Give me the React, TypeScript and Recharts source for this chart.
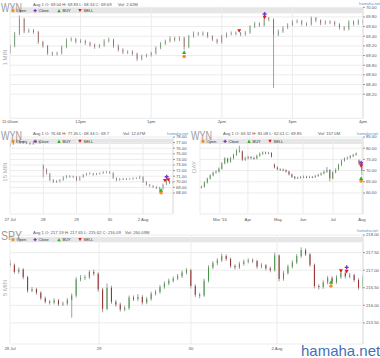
import { ComposedChart, Bar, Scatter, XAxis, YAxis, CartesianGrid } from 'recharts';

// ---- 1 MIN (WYN), one candle per 4 minutes from 11:00am ----
const openA0 = 69.06;
const closeA = [69.20, 69.45, 69.76, 69.50, 69.52, 69.49, 69.28, 69.20, 69.05, 69.03,
  69.05, 69.18, 69.32, 69.34, 69.29, 69.30, 69.26, 69.22, 69.18, 69.21,
  69.30, 69.33, 69.20, 69.12, 69.07, 69.08, 69.04, 68.93, 68.99, 69.01,
  69.05, 69.16, 69.25, 69.30, 69.36, 69.33, 69.37, 69.18, 69.40, 69.46,
  69.44, 69.47, 69.40, 69.33, 69.28, 69.40, 69.45, 69.47, 69.46, 69.44,
  69.48, 69.60, 69.66, 69.63, 69.78, 69.75, 69.43, 69.50, 69.58, 69.64,
  69.70, 69.71, 69.66, 69.65, 69.78, 69.73, 69.67, 69.70, 69.69, 69.65,
  69.58, 69.55, 69.70, 69.66, 69.72, 69.68];
const highA = [69.24, 69.49, 69.83, 69.78, 69.56, 69.55, 69.51, 69.31, 69.22, 69.08,
  69.08, 69.21, 69.36, 69.38, 69.37, 69.34, 69.33, 69.29, 69.25, 69.24,
  69.34, 69.37, 69.35, 69.23, 69.15, 69.11, 69.11, 69.06, 69.02, 69.04,
  69.08, 69.19, 69.28, 69.33, 69.40, 69.39, 69.40, 69.39, 69.43, 69.50,
  69.49, 69.50, 69.49, 69.42, 69.35, 69.43, 69.48, 69.50, 69.50, 69.49,
  69.51, 69.63, 69.70, 69.69, 69.82, 69.80, 69.77, 69.54, 69.61, 69.67,
  69.73, 69.75, 69.74, 69.69, 69.81, 69.80, 69.75, 69.73, 69.73, 69.72,
  69.67, 69.61, 69.73, 69.73, 69.75, 69.75];
const lowA = [69.03, 69.17, 69.42, 69.46, 69.47, 69.45, 69.24, 69.16, 69.01, 68.99,
  69.00, 69.02, 69.15, 69.29, 69.25, 69.26, 69.22, 69.18, 69.14, 69.15,
  69.18, 69.27, 69.16, 69.08, 69.03, 69.03, 69.00, 68.89, 68.90, 68.96,
  68.98, 69.02, 69.13, 69.22, 69.27, 69.29, 69.30, 69.12, 69.15, 69.37,
  69.41, 69.41, 69.36, 69.30, 69.24, 69.25, 69.37, 69.42, 69.42, 69.40,
  69.41, 69.45, 69.57, 69.59, 69.60, 69.71, 68.33, 69.40, 69.47, 69.55,
  69.61, 69.67, 69.62, 69.61, 69.62, 69.69, 69.63, 69.64, 69.65, 69.61,
  69.54, 69.51, 69.52, 69.62, 69.63, 69.64];
const ticksA = [0, 15, 30, 45, 60, 75];
const labelsA = ['11:00am', '12pm', '1pm', '2pm', '3pm', '4pm'];
const yTicksA = [68.2, 68.4, 68.6, 68.8, 69.0, 69.2, 69.4, 69.6, 69.8, 70.0];
const openMkA = [{ x: 37, y: 68.98 }];
const closeMkA = [{ x: 54.1, y: 69.86 }];
const buyMkA = [{ x: 37, y: 69.07 }];
const sellMkA = [{ x: 48.7, y: 69.51 }, { x: 54.1, y: 69.79 }];

// ---- 15 MIN (WYN), ten candles per session ----
const openB0 = 76.5;
const gapB: Record<number, number> = { 10: 72.9 };
const closeB = [76.7, 77.1, 77.4, 77.2, 77.0, 76.9, 76.75, 77.0, 77.2, 77.0,
  72.2, 71.5, 70.3, 70.0, 70.1, 70.3, 70.8, 71.0, 70.9, 70.9,
  70.3, 70.8, 71.2, 71.4, 71.5, 71.3, 71.4, 71.5, 71.7, 71.75,
  71.6, 70.7, 70.3, 70.5, 70.45, 70.5, 70.55, 70.6, 70.65, 70.8,
  70.0, 69.5, 69.3, 69.1, 68.95, 68.8, 69.5, 70.2, 69.8, 69.9];
const highB = [76.9, 77.3, 77.6, 77.5, 77.3, 77.2, 77.1, 77.2, 77.4, 77.3,
  73.1, 72.4, 71.6, 70.5, 70.3, 70.5, 71.0, 71.2, 71.2, 71.1,
  71.0, 71.0, 71.4, 71.6, 71.7, 71.6, 71.6, 71.7, 71.9, 71.9,
  71.9, 71.7, 70.8, 70.7, 70.7, 70.7, 70.7, 70.8, 70.8, 71.1,
  71.0, 70.1, 69.6, 69.4, 69.2, 69.1, 69.7, 70.4, 70.3, 70.1];
const lowB = [76.3, 76.6, 77.0, 77.0, 76.8, 76.7, 76.6, 76.6, 76.9, 76.8,
  70.8, 71.3, 70.1, 69.8, 69.8, 69.9, 70.2, 70.6, 70.7, 70.7,
  70.1, 70.2, 70.7, 71.1, 71.3, 71.1, 71.2, 71.3, 71.4, 71.5,
  71.4, 70.5, 70.1, 70.2, 70.3, 70.3, 70.4, 70.4, 70.5, 70.5,
  69.8, 69.3, 69.1, 68.9, 68.7, 68.34, 68.6, 69.4, 69.6, 69.6];
const ticksB = [0, 10, 20, 30, 40];
const labelsB = ['27 Jul', '28', '29', '30', '2 Aug'];
const yTicksB = [68, 69, 70, 71, 72, 73, 74, 75, 76, 77, 78];
const openMkB = [{ x: 45.4, y: 68.05 }];
const closeMkB = [{ x: 47.1, y: 70.9 }];
const buyMkB = [{ x: 45.4, y: 68.54 }];
const sellMkB = [{ x: 46.6, y: 70.2 }, { x: 47.6, y: 70.35 }];

// ---- DAY (WYN), one candle per two sessions ----
const openC0 = 62.4;
const gapC: Record<number, number> = { 25: 72.6, 54: 74.6 };
const closeC = [62.7, 64.6, 66.4, 67.8, 69.1, 69.5, 70.8, 73.2, 75.4, 73.9,
  75.5, 77.0, 78.9, 78.6, 74.9, 75.5, 76.0, 75.6, 75.4, 76.6,
  77.5, 78.1, 77.8, 77.9, 76.2, 71.4, 70.6, 70.4, 70.2, 69.6,
  68.3, 67.2, 66.6, 66.8, 67.1, 67.2, 67.0, 67.2, 67.1, 67.6,
  68.1, 68.7, 69.5, 70.3, 66.5, 69.2, 70.4, 72.6, 74.4, 75.3,
  75.7, 76.4, 77.0, 77.6, 73.2, 69.85];
const highC = [63.3, 65.2, 66.9, 68.4, 69.6, 70.2, 71.4, 73.8, 76.0, 75.8,
  76.1, 77.6, 79.6, 81.1, 79.0, 76.2, 76.6, 76.5, 76.2, 77.1,
  78.1, 78.6, 78.5, 78.4, 78.2, 73.2, 71.9, 71.0, 70.9, 70.6,
  69.9, 68.7, 67.6, 67.3, 67.6, 67.8, 67.7, 67.7, 67.6, 68.1,
  68.6, 69.2, 70.1, 71.6, 70.6, 69.7, 71.0, 73.1, 75.0, 75.9,
  76.3, 77.0, 77.5, 78.1, 75.0, 73.5];
const lowC = [62.0, 62.4, 64.2, 66.0, 67.4, 68.6, 69.1, 70.4, 72.8, 73.2,
  73.5, 75.0, 76.6, 78.0, 74.2, 74.3, 75.0, 75.0, 74.8, 75.0,
  76.2, 77.0, 77.2, 77.3, 75.8, 70.9, 70.1, 69.9, 69.7, 69.0,
  67.8, 66.6, 66.0, 66.2, 66.4, 66.6, 66.5, 66.6, 66.6, 66.7,
  67.2, 67.7, 68.3, 69.0, 65.2, 66.1, 68.8, 70.0, 72.1, 74.0,
  74.9, 75.3, 76.0, 76.6, 72.4, 68.0];
const ticksC = [6.3, 15.9, 26.2, 34.8, 45.1, 55.0];
const labelsC = ["Mar '16", 'Apr', 'May', 'Jun', 'Jul', 'Aug'];
const yTicksC = [60, 65, 70, 75, 80, 85];
const openMkC = [{ x: 54.7, y: 65.35 }];
const closeMkC = [{ x: 54.7, y: 73.5 }];
const buyMkC = [{ x: 54.7, y: 66.6 }];
const sellMkC = [{ x: 54.7, y: 72.05 }];

// ---- 5 MIN (SPY), twenty candles per session ----
const openD0 = 217.19;
const closeD = [217.15, 216.95, 217.02, 216.80, 216.42, 216.46, 216.36, 216.20, 216.10, 216.08,
  216.14, 216.03, 216.05, 216.15, 216.28, 216.74, 216.78, 216.80, 216.95, 216.90,
  216.45, 215.90, 216.50, 216.10, 216.02, 215.88, 215.92, 216.22, 216.18, 216.24,
  216.08, 216.18, 216.33, 216.38, 216.52, 216.62, 216.70, 216.76, 216.83, 216.93,
  217.00, 216.55, 216.30, 216.28, 216.70, 217.08, 217.20, 217.28, 217.40, 217.32,
  217.12, 217.08, 217.18, 217.24, 217.28, 217.26, 217.10, 217.14, 217.05, 217.00,
  217.42, 216.75, 216.92, 217.10, 217.22, 217.40, 217.57, 217.45, 217.15, 216.55,
  216.52, 216.65, 216.78, 216.66, 216.80, 216.92, 216.82, 216.86, 216.72, 216.50,
  216.80];
const highD = [217.30, 217.19, 217.08, 217.06, 216.84, 216.52, 216.50, 216.40, 216.25, 216.15,
  216.20, 216.18, 216.11, 216.21, 216.34, 216.80, 216.86, 216.86, 217.00, 217.02,
  216.94, 216.50, 216.62, 216.56, 216.16, 216.08, 215.99, 216.28, 216.28, 216.32,
  216.29, 216.24, 216.39, 216.44, 216.58, 216.68, 216.76, 216.82, 216.89, 216.99,
  217.06, 217.04, 216.60, 216.36, 216.76, 217.14, 217.26, 217.34, 217.47, 217.45,
  217.36, 217.17, 217.24, 217.30, 217.34, 217.33, 217.30, 217.20, 217.18, 217.10,
  217.50, 217.45, 216.98, 217.16, 217.28, 217.46, 217.65, 217.62, 217.49, 217.19,
  216.60, 216.71, 216.84, 216.83, 216.86, 216.98, 216.97, 216.92, 216.90, 216.77,
  216.88];
const lowD = [217.08, 216.90, 216.90, 216.74, 216.36, 216.37, 216.30, 216.15, 216.05, 216.02,
  216.03, 215.98, 215.98, 216.00, 215.65, 216.22, 216.68, 216.72, 216.75, 216.84,
  216.38, 215.80, 215.86, 216.04, 215.96, 215.82, 215.83, 215.87, 216.12, 216.12,
  216.02, 216.03, 216.13, 216.28, 216.33, 216.47, 216.57, 216.65, 216.71, 216.78,
  216.88, 216.48, 216.24, 216.20, 216.24, 216.65, 217.03, 217.14, 217.23, 217.26,
  217.06, 217.02, 217.03, 217.13, 217.19, 217.20, 217.04, 217.05, 216.99, 216.94,
  216.96, 216.68, 216.70, 216.87, 217.05, 217.17, 217.35, 217.40, 217.09, 216.48,
  216.45, 216.47, 216.60, 216.60, 216.61, 216.75, 216.76, 216.77, 216.66, 216.44,
  216.45];
const ticksD = [0, 20.2, 41, 60.5];
const labelsD = ['28 Jul', '29', '30', '2 Aug'];
const yTicksD = [215.5, 216, 216.5, 217, 217.5, 218];
const openMkD = [{ x: 72.75, y: 216.55 }];
const closeMkD = [{ x: 76.3, y: 217.08 }];
const buyMkD = [{ x: 72.75, y: 216.66 }];
const sellMkD = [{ x: 75.0, y: 216.98 }, { x: 76.3, y: 216.96 }];

const GREEN = '#3f9a3f';
const RED = '#9c2a2a';
const WICK = '#a0a0a0';
const FONT = '"Liberation Sans", Arial, sans-serif';

function buildCandles(open0: number, closes: number[], highs: number[], lows: number[], gaps: Record<number, number> = {}) {
  return closes.map((c, i) => {
    const o = gaps[i] ?? (i === 0 ? open0 : closes[i - 1]);
    const h = Math.max(highs[i], o, c);
    const l = Math.min(lows[i], o, c);
    return { x: i, open: o, close: c, high: h, low: l, range: [l, h] };
  });
}

const candlesA = buildCandles(openA0, closeA, highA, lowA);
const candlesB = buildCandles(openB0, closeB, highB, lowB, gapB);
const candlesC = buildCandles(openC0, closeC, highC, lowC, gapC);
const candlesD = buildCandles(openD0, closeD, highD, lowD);

function CandleShape(props: any) {
  const { x, y, width, height, payload } = props;
  if (!payload || x == null) return null;
  const top = Math.min(y, y + height);
  const h = Math.abs(height);
  const { open, close, high, low } = payload;
  const k = high > low ? h / (high - low) : 0;
  const bodyTop = top + (high - Math.max(open, close)) * k;
  const bodyH = Math.max(0.9, Math.abs(close - open) * k);
  const cx = x + width / 2;
  return (
    <g>
      <line x1={cx} x2={cx} y1={top} y2={top + h} stroke={WICK} strokeWidth={1} />
      <rect x={x} y={bodyTop} width={width} height={bodyH} fill={close >= open ? GREEN : RED} />
    </g>
  );
}

const OpenDot = (p: any) => <circle cx={p.cx} cy={p.cy} r={1.8} fill="#f0901e" />;
const CloseMark = (p: any) => (
  <path d={`M${p.cx - 2},${p.cy}h4M${p.cx},${p.cy - 2}v4`} stroke="#7a35c8" strokeWidth={1.4} />
);
const BuyMark = (p: any) => (
  <polygon points={`${p.cx - 2},${p.cy + 1.7} ${p.cx + 2},${p.cy + 1.7} ${p.cx},${p.cy - 1.9}`} fill="#27b02a" />
);
const SellMark = (p: any) => (
  <polygon points={`${p.cx - 2},${p.cy - 1.7} ${p.cx + 2},${p.cy - 1.7} ${p.cx},${p.cy + 1.9}`} fill="#e01b1b" />
);

const tickStyle = { fontSize: 4.2, fill: '#555', fontFamily: FONT };

function CandlePanel(props: any) {
  const { left, top, width, height, margin, xHeight, data, xDomain, xTicks, xLabels, yDomain, yTicks, barSize, tickGap, mk } = props;
  return (
    <div style={{ position: 'absolute', left, top }}>
      <ComposedChart width={width} height={height} data={data} margin={margin}>
        <CartesianGrid stroke="#ececec" />
        <XAxis
          type="number"
          dataKey="x"
          domain={xDomain}
          ticks={xTicks}
          allowDataOverflow
          interval={0}
          height={xHeight}
          tickLine={false}
          axisLine={false}
          tickSize={0}
          tickMargin={tickGap}
          tick={tickStyle}
          tickFormatter={(v: number) => xLabels[xTicks.indexOf(v)] ?? ''}
        />
        <YAxis
          orientation="right"
          type="number"
          domain={yDomain}
          ticks={yTicks}
          allowDataOverflow
          interval={0}
          width={17}
          tickLine={{ stroke: '#999' }}
          tickSize={2}
          tickMargin={1}
          axisLine={{ stroke: '#e2e2e2' }}
          tick={tickStyle}
          tickFormatter={(v: number) => v.toFixed(2)}
        />
        <Bar dataKey="range" barSize={barSize} shape={<CandleShape />} isAnimationActive={false} />
        <Scatter data={mk.open} dataKey="y" shape={OpenDot} isAnimationActive={false} />
        <Scatter data={mk.buy} dataKey="y" shape={BuyMark} isAnimationActive={false} />
        <Scatter data={mk.sell} dataKey="y" shape={SellMark} isAnimationActive={false} />
        <Scatter data={mk.close} dataKey="y" shape={CloseMark} isAnimationActive={false} />
      </ComposedChart>
    </div>
  );
}

function LegendItems({ x, y }: { x: number; y: number }) {
  return (
    <g fontSize={4} fill="#333" fontFamily={FONT}>
      <circle cx={x + 3} cy={y} r={1.6} fill="#f0901e" />
      <text x={x + 6.5} y={y + 1.4}>Open</text>
      <path d={`M${x + 23.5},${y}h3.2M${x + 25.1},${y - 1.6}v3.2`} stroke="#7a35c8" strokeWidth={1.2} />
      <text x={x + 28.5} y={y + 1.4}>Close</text>
      <polygon points={`${x + 47.3},${y + 1.6} ${x + 50.7},${y + 1.6} ${x + 49},${y - 1.7}`} fill="#27b02a" />
      <text x={x + 52.5} y={y + 1.4}>BUY</text>
      <polygon points={`${x + 68.3},${y - 1.6} ${x + 71.7},${y - 1.6} ${x + 70},${y + 1.7}`} fill="#e01b1b" />
      <text x={x + 73.5} y={y + 1.4}>SELL</text>
    </g>
  );
}

function Header({ x, y, title, info, vol, volX, siteX, siteY, side, sideX, sideY }: any) {
  return (
    <g fontFamily={FONT}>
      <text x={x} y={y + 10} fontSize={13} fill="#9a9a9a" textLength={21} lengthAdjust="spacingAndGlyphs">{title}</text>
      <text x={x + 32} y={y + 4.6} fontSize={4.2} fill="#555">{info}</text>
      <text x={volX} y={y + 4.6} fontSize={4.2} fill="#555">{vol}</text>
      <text x={siteX} y={siteY} fontSize={4} fill="#4d94db">hamaha.net</text>
      <text
        x={sideX}
        y={sideY}
        fontSize={6}
        fill="#aaa"
        textAnchor="middle"
        dominantBaseline="central"
        transform={`rotate(-90 ${sideX} ${sideY})`}
      >
        {side}
      </text>
    </g>
  );
}

export default function App() {
  return (
    <div style={{ position: 'fixed', left: 0, top: 0, width: 380, height: 358, background: '#fff', overflow: 'hidden' }}>
      <svg width={380} height={358} style={{ position: 'absolute', left: 0, top: 0 }}>
        <rect x={10} y={8} width={353} height={5.3} fill="#e6e6e6" />
        <rect x={10} y={138.7} width={163} height={5.3} fill="#e6e6e6" />
        <rect x={200} y={138.7} width={163} height={5.3} fill="#e6e6e6" />
        <rect x={10} y={237} width={353} height={5.3} fill="#e6e6e6" />
      </svg>

      <CandlePanel
        left={0} top={0} width={380} height={130}
        margin={{ top: 7.3, right: 0, bottom: 0, left: 10 }} xHeight={11.7}
        data={candlesA} xDomain={[0, 75]} xTicks={ticksA} xLabels={labelsA}
        yDomain={[67.7, 70.0]} yTicks={yTicksA} barSize={3.4} tickGap={2}
        mk={{ open: openMkA, close: closeMkA, buy: buyMkA, sell: sellMkA }}
      />
      <CandlePanel
        left={0} top={125} width={190} height={100}
        margin={{ top: 12, right: 0, bottom: 0, left: 10 }} xHeight={11}
        data={candlesB} xDomain={[0, 49]} xTicks={ticksB} xLabels={labelsB}
        yDomain={[64.25, 78]} yTicks={yTicksB} barSize={2.5} tickGap={4}
        mk={{ open: openMkB, close: closeMkB, buy: buyMkB, sell: sellMkB }}
      />
      <CandlePanel
        left={190} top={125} width={190} height={100}
        margin={{ top: 12, right: 0, bottom: 0, left: 10 }} xHeight={11}
        data={candlesC} xDomain={[-0.5, 55.35]} xTicks={ticksC} xLabels={labelsC}
        yDomain={[50.6, 85]} yTicks={yTicksC} barSize={2.3} tickGap={4}
        mk={{ open: openMkC, close: closeMkC, buy: buyMkC, sell: sellMkC }}
      />
      <CandlePanel
        left={0} top={225} width={380} height={133}
        margin={{ top: 10, right: 0, bottom: 0, left: 10 }} xHeight={14}
        data={candlesD} xDomain={[0, 80]} xTicks={ticksD} xLabels={labelsD}
        yDomain={[214.9, 218]} yTicks={yTicksD} barSize={3.3} tickGap={3}
        mk={{ open: openMkD, close: closeMkD, buy: buyMkD, sell: sellMkD }}
      />

      <svg width={380} height={358} style={{ position: 'absolute', left: 0, top: 0, pointerEvents: 'none' }}>
        <Header x={1} y={1.5} title="WYN" info="Aug 1 O: 69.04 H: 69.83 L: 68.34 C: 69.69" vol="Vol: 2.62M" volX={118}
          siteX={359} siteY={4.6} side="1 MIN" sideX={4.5} sideY={57.5} />
        <LegendItems x={10} y={10.6} />
        <Header x={1} y={130} title="WYN" info="Aug 1 O: 76.66 H: 77.45 L: 68.34 C: 69.7" vol="Vol: 12.67M" volX={123}
          siteX={167} siteY={134.8} side="15 MIN" sideX={4.5} sideY={172} />
        <LegendItems x={10} y={141.3} />
        <Header x={191} y={130} title="WYN" info="Aug 1 O: 63.32 H: 81.08 L: 62.01 C: 69.85" vol="Vol: 157.0M" volX={318}
          siteX={357} siteY={134.8} side="DAY" sideX={194} sideY={167} />
        <LegendItems x={200} y={141.3} />
        <Header x={1} y={229.5} title="SPY" info="Aug 1 O: 217.19 H: 217.65 L: 215.62 C: 216.09" vol="Vol: 260.09M" volX={125}
          siteX={357} siteY={232.3} side="5 MIN" sideX={4.5} sideY={288} />
        <LegendItems x={10} y={239.6} />
        <text x={301} y={356} fontSize={15} fill="#3f72b8" fontFamily={FONT}>hamaha.net</text>
      </svg>
    </div>
  );
}
